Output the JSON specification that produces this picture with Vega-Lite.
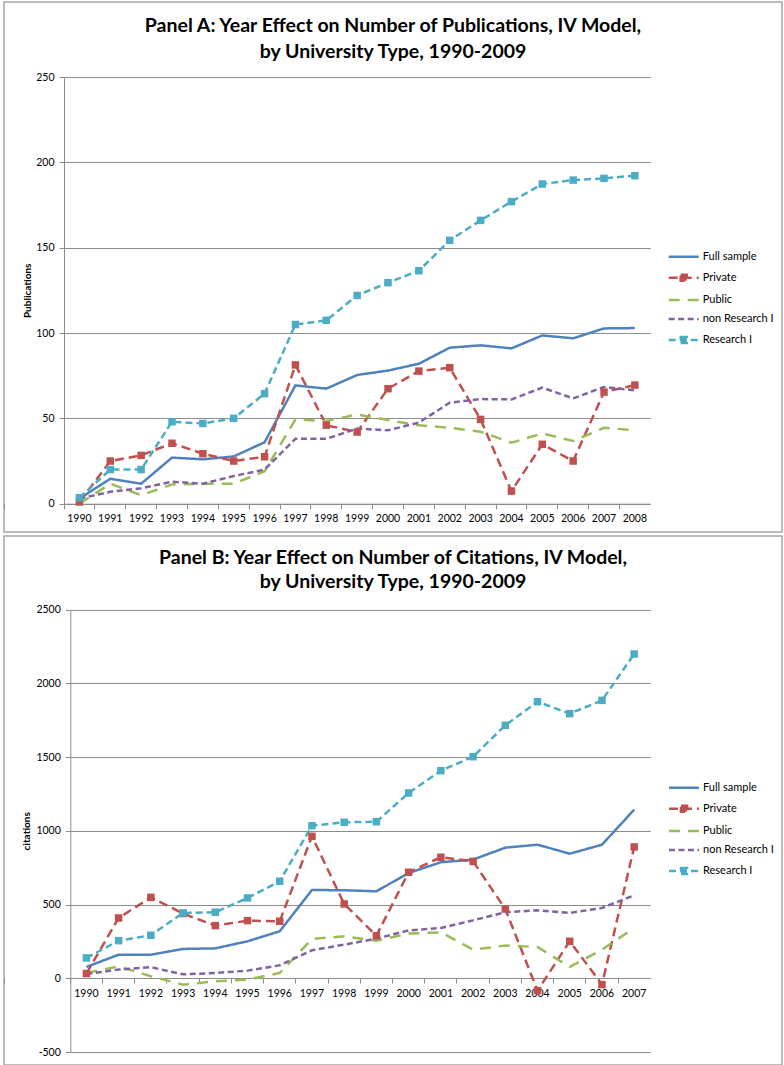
{
  "$schema": "https://vega.github.io/schema/vega-lite/v6.json",
  "background": "white",
  "padding": {"left": 2, "top": 1, "right": 0, "bottom": 0},
  "spacing": 2,
  "config": {
    "font": "Lato",
    "view": {"stroke": "#a6a6a6", "strokeWidth": 1.5},
    "axis": {"labelColor": "#000", "labelFontSize": 10.5, "domainColor": "#8c8c8c", "tickColor": "#8c8c8c", "gridColor": "#8c8c8c", "tickSize": 5, "labelPadding": 5, "domainWidth": 1, "gridWidth": 1, "tickWidth": 1}
  },
  "resolve": {"scale": {"color": "independent", "strokeDash": "independent"}, "legend": {"color": "independent", "strokeDash": "independent"}},
  "datasets": {
    "pubs": [
      {"year": 1990, "series": "Full sample", "value": 3}, {"year": 1990, "series": "Private", "value": 1}, {"year": 1990, "series": "Public", "value": 0}, {"year": 1990, "series": "non Research I", "value": 3}, {"year": 1990, "series": "Research I", "value": 3.5},
      {"year": 1991, "series": "Full sample", "value": 14.6}, {"year": 1991, "series": "Private", "value": 25}, {"year": 1991, "series": "Public", "value": 11.7}, {"year": 1991, "series": "non Research I", "value": 7}, {"year": 1991, "series": "Research I", "value": 20},
      {"year": 1992, "series": "Full sample", "value": 11.7}, {"year": 1992, "series": "Private", "value": 28.3}, {"year": 1992, "series": "Public", "value": 5}, {"year": 1992, "series": "non Research I", "value": 9}, {"year": 1992, "series": "Research I", "value": 20},
      {"year": 1993, "series": "Full sample", "value": 27}, {"year": 1993, "series": "Private", "value": 35.4}, {"year": 1993, "series": "Public", "value": 11.3}, {"year": 1993, "series": "non Research I", "value": 12.9}, {"year": 1993, "series": "Research I", "value": 48},
      {"year": 1994, "series": "Full sample", "value": 26}, {"year": 1994, "series": "Private", "value": 29.3}, {"year": 1994, "series": "Public", "value": 11.7}, {"year": 1994, "series": "non Research I", "value": 11.7}, {"year": 1994, "series": "Research I", "value": 47},
      {"year": 1995, "series": "Full sample", "value": 27.7}, {"year": 1995, "series": "Private", "value": 25}, {"year": 1995, "series": "Public", "value": 11.7}, {"year": 1995, "series": "non Research I", "value": 16.2}, {"year": 1995, "series": "Research I", "value": 50},
      {"year": 1996, "series": "Full sample", "value": 36}, {"year": 1996, "series": "Private", "value": 27.5}, {"year": 1996, "series": "Public", "value": 19}, {"year": 1996, "series": "non Research I", "value": 20}, {"year": 1996, "series": "Research I", "value": 64.5},
      {"year": 1997, "series": "Full sample", "value": 69.3}, {"year": 1997, "series": "Private", "value": 81.3}, {"year": 1997, "series": "Public", "value": 49.4}, {"year": 1997, "series": "non Research I", "value": 38}, {"year": 1997, "series": "Research I", "value": 105},
      {"year": 1998, "series": "Full sample", "value": 67.4}, {"year": 1998, "series": "Private", "value": 46}, {"year": 1998, "series": "Public", "value": 48.4}, {"year": 1998, "series": "non Research I", "value": 38}, {"year": 1998, "series": "Research I", "value": 107.4},
      {"year": 1999, "series": "Full sample", "value": 75.4}, {"year": 1999, "series": "Private", "value": 42}, {"year": 1999, "series": "Public", "value": 52.3}, {"year": 1999, "series": "non Research I", "value": 44}, {"year": 1999, "series": "Research I", "value": 122},
      {"year": 2000, "series": "Full sample", "value": 78}, {"year": 2000, "series": "Private", "value": 67.4}, {"year": 2000, "series": "Public", "value": 49}, {"year": 2000, "series": "non Research I", "value": 43}, {"year": 2000, "series": "Research I", "value": 129.5},
      {"year": 2001, "series": "Full sample", "value": 82}, {"year": 2001, "series": "Private", "value": 77.7}, {"year": 2001, "series": "Public", "value": 45.9}, {"year": 2001, "series": "non Research I", "value": 47.5}, {"year": 2001, "series": "Research I", "value": 136.5},
      {"year": 2002, "series": "Full sample", "value": 91.4}, {"year": 2002, "series": "Private", "value": 79.7}, {"year": 2002, "series": "Public", "value": 44.5}, {"year": 2002, "series": "non Research I", "value": 59.2}, {"year": 2002, "series": "Research I", "value": 154.3},
      {"year": 2003, "series": "Full sample", "value": 92.8}, {"year": 2003, "series": "Private", "value": 49.4}, {"year": 2003, "series": "Public", "value": 42.2}, {"year": 2003, "series": "non Research I", "value": 61.3}, {"year": 2003, "series": "Research I", "value": 166},
      {"year": 2004, "series": "Full sample", "value": 91}, {"year": 2004, "series": "Private", "value": 7.4}, {"year": 2004, "series": "Public", "value": 35.7}, {"year": 2004, "series": "non Research I", "value": 61.1}, {"year": 2004, "series": "Research I", "value": 177},
      {"year": 2005, "series": "Full sample", "value": 98.6}, {"year": 2005, "series": "Private", "value": 34.8}, {"year": 2005, "series": "Public", "value": 41.2}, {"year": 2005, "series": "non Research I", "value": 68}, {"year": 2005, "series": "Research I", "value": 187.3},
      {"year": 2006, "series": "Full sample", "value": 96.9}, {"year": 2006, "series": "Private", "value": 25}, {"year": 2006, "series": "Public", "value": 36.7}, {"year": 2006, "series": "non Research I", "value": 61.7}, {"year": 2006, "series": "Research I", "value": 189.6},
      {"year": 2007, "series": "Full sample", "value": 102.7}, {"year": 2007, "series": "Private", "value": 65.4}, {"year": 2007, "series": "Public", "value": 44.5}, {"year": 2007, "series": "non Research I", "value": 68.4}, {"year": 2007, "series": "Research I", "value": 190.6},
      {"year": 2008, "series": "Full sample", "value": 102.9}, {"year": 2008, "series": "Private", "value": 69.5}, {"year": 2008, "series": "Public", "value": 43}, {"year": 2008, "series": "non Research I", "value": 66.4}, {"year": 2008, "series": "Research I", "value": 192.2}
    ],
    "cites": [
      {"year": 1990, "series": "Full sample", "value": 77}, {"year": 1990, "series": "Private", "value": 32}, {"year": 1990, "series": "Public", "value": 36}, {"year": 1990, "series": "non Research I", "value": 29}, {"year": 1990, "series": "Research I", "value": 138},
      {"year": 1991, "series": "Full sample", "value": 160}, {"year": 1991, "series": "Private", "value": 409}, {"year": 1991, "series": "Public", "value": 81}, {"year": 1991, "series": "non Research I", "value": 59}, {"year": 1991, "series": "Research I", "value": 255},
      {"year": 1992, "series": "Full sample", "value": 160}, {"year": 1992, "series": "Private", "value": 549}, {"year": 1992, "series": "Public", "value": 14}, {"year": 1992, "series": "non Research I", "value": 75}, {"year": 1992, "series": "Research I", "value": 292},
      {"year": 1993, "series": "Full sample", "value": 199}, {"year": 1993, "series": "Private", "value": 439}, {"year": 1993, "series": "Public", "value": -43}, {"year": 1993, "series": "non Research I", "value": 27}, {"year": 1993, "series": "Research I", "value": 443},
      {"year": 1994, "series": "Full sample", "value": 203}, {"year": 1994, "series": "Private", "value": 357}, {"year": 1994, "series": "Public", "value": -20}, {"year": 1994, "series": "non Research I", "value": 36}, {"year": 1994, "series": "Research I", "value": 448},
      {"year": 1995, "series": "Full sample", "value": 251}, {"year": 1995, "series": "Private", "value": 391}, {"year": 1995, "series": "Public", "value": -9}, {"year": 1995, "series": "non Research I", "value": 52}, {"year": 1995, "series": "Research I", "value": 545},
      {"year": 1996, "series": "Full sample", "value": 319}, {"year": 1996, "series": "Private", "value": 387}, {"year": 1996, "series": "Public", "value": 36}, {"year": 1996, "series": "non Research I", "value": 88}, {"year": 1996, "series": "Research I", "value": 658},
      {"year": 1997, "series": "Full sample", "value": 599}, {"year": 1997, "series": "Private", "value": 963}, {"year": 1997, "series": "Public", "value": 267}, {"year": 1997, "series": "non Research I", "value": 190}, {"year": 1997, "series": "Research I", "value": 1035},
      {"year": 1998, "series": "Full sample", "value": 597}, {"year": 1998, "series": "Private", "value": 504}, {"year": 1998, "series": "Public", "value": 285}, {"year": 1998, "series": "non Research I", "value": 228}, {"year": 1998, "series": "Research I", "value": 1058},
      {"year": 1999, "series": "Full sample", "value": 590}, {"year": 1999, "series": "Private", "value": 289}, {"year": 1999, "series": "Public", "value": 255}, {"year": 1999, "series": "non Research I", "value": 269}, {"year": 1999, "series": "Research I", "value": 1062},
      {"year": 2000, "series": "Full sample", "value": 714}, {"year": 2000, "series": "Private", "value": 719}, {"year": 2000, "series": "Public", "value": 303}, {"year": 2000, "series": "non Research I", "value": 325}, {"year": 2000, "series": "Research I", "value": 1257},
      {"year": 2001, "series": "Full sample", "value": 787}, {"year": 2001, "series": "Private", "value": 821}, {"year": 2001, "series": "Public", "value": 312}, {"year": 2001, "series": "non Research I", "value": 341}, {"year": 2001, "series": "Research I", "value": 1408},
      {"year": 2002, "series": "Full sample", "value": 805}, {"year": 2002, "series": "Private", "value": 793}, {"year": 2002, "series": "Public", "value": 194}, {"year": 2002, "series": "non Research I", "value": 393}, {"year": 2002, "series": "Research I", "value": 1503},
      {"year": 2003, "series": "Full sample", "value": 886}, {"year": 2003, "series": "Private", "value": 470}, {"year": 2003, "series": "Public", "value": 222}, {"year": 2003, "series": "non Research I", "value": 448}, {"year": 2003, "series": "Research I", "value": 1716},
      {"year": 2004, "series": "Full sample", "value": 906}, {"year": 2004, "series": "Private", "value": -84}, {"year": 2004, "series": "Public", "value": 212}, {"year": 2004, "series": "non Research I", "value": 461}, {"year": 2004, "series": "Research I", "value": 1876},
      {"year": 2005, "series": "Full sample", "value": 845}, {"year": 2005, "series": "Private", "value": 251}, {"year": 2005, "series": "Public", "value": 77}, {"year": 2005, "series": "non Research I", "value": 443}, {"year": 2005, "series": "Research I", "value": 1795},
      {"year": 2006, "series": "Full sample", "value": 906}, {"year": 2006, "series": "Private", "value": -43}, {"year": 2006, "series": "Public", "value": 194}, {"year": 2006, "series": "non Research I", "value": 477}, {"year": 2006, "series": "Research I", "value": 1885},
      {"year": 2007, "series": "Full sample", "value": 1144}, {"year": 2007, "series": "Private", "value": 891}, {"year": 2007, "series": "Public", "value": 341}, {"year": 2007, "series": "non Research I", "value": 563}, {"year": 2007, "series": "Research I", "value": 2199}
    ]
  },
  "vconcat": [
    {
      "width": 778,
      "height": 530,
      "title": {"text": ["Panel A: Year Effect on Number of Publications, IV Model,", "by University Type, 1990-2009"], "fontSize": 19.5, "fontWeight": "bold", "color": "#000", "anchor": "middle", "frame": "group", "offset": -60, "lineHeight": 25.5},
      "data": {"name": "pubs"},
      "encoding": {
        "x": {"field": "year", "type": "ordinal", "scale": {"type": "band", "range": [60, 646.3], "paddingInner": 0, "paddingOuter": 0},
          "axis": {"title": null, "bandPosition": 0, "tickExtra": true, "offset": -28.3, "labelAngle": 0, "labelOverlap": false, "grid": false}},
        "y": {"field": "value", "type": "quantitative", "scale": {"domain": [0, 250], "range": [501.7, 75], "nice": false, "zero": false},
          "axis": {"title": "Publications", "offset": -60, "values": [0, 50, 100, 150, 200, 250], "labelExpr": "'' + datum.value", "grid": true, "titleFontWeight": "bold", "titleFontSize": 10, "titleColor": "#000", "titleX": -37, "titleY": 288.3, "titleBaseline": "middle", "titleAngle": -90}},
        "color": {"field": "series", "type": "nominal",
          "scale": {"domain": ["Full sample", "Private", "Public", "non Research I", "Research I"], "range": ["#4F81BD", "#C0504D", "#9BBB59", "#8064A2", "#4BACC6"]},
          "legend": {"title": null, "orient": "none", "legendX": 674.2, "legendY": 249.2, "padding": 0, "symbolType": "stroke", "symbolSize": 64, "symbolStrokeWidth": 2.5, "labelFontSize": 11, "labelColor": "#000", "labelOffset": 13.5, "rowPadding": 7.1,
            "encode": {"symbols": {"update": {
              "shape": {"signal": "(datum.value === 'Private' || datum.value === 'Research I') ? 'M-3.75,0H3.75M-0.75,-0.75H0.75V0.75H-0.75Z' : 'M-3.75,0H3.75'"},
              "fill": {"signal": "datum.value === 'Private' ? '#C0504D' : datum.value === 'Research I' ? '#4BACC6' : 'transparent'"},
              "stroke": {"signal": "datum.value === 'Full sample' ? '#4F81BD' : datum.value === 'Private' ? '#C0504D' : datum.value === 'Public' ? '#9BBB59' : datum.value === 'non Research I' ? '#8064A2' : '#4BACC6'"},
              "strokeDash": {"signal": "datum.value === 'Full sample' ? [1, 0] : datum.value === 'Private' ? [11, 8, 11, 0] : datum.value === 'Public' ? [11, 8] : datum.value === 'non Research I' ? [6, 3.5] : [8, 14, 8, 0]"},
              "strokeWidth": {"value": 2.5},
              "opacity": {"value": 1}
            }}}}
        }
      },
      "layer": [
        {"mark": {"type": "line", "strokeWidth": 2.5},
         "encoding": {"strokeDash": {"field": "series", "type": "nominal", "legend": null,
           "scale": {"domain": ["Full sample", "Private", "Public", "non Research I", "Research I"], "range": [[1, 0], [9, 5], [11, 8], [6, 3.5], [7, 4]]}}}},
        {"transform": [{"filter": "datum.series === 'Private' || datum.series === 'Research I'"}],
         "mark": {"type": "square", "size": 56, "filled": true, "opacity": 1}}
      ]
    },
    {
      "width": 778,
      "height": 529,
      "title": {"text": ["Panel B: Year Effect on Number of Citations, IV Model,", "by University Type, 1990-2009"], "fontSize": 19.5, "fontWeight": "bold", "color": "#000", "anchor": "middle", "frame": "group", "offset": -56, "lineHeight": 24},
      "data": {"name": "cites"},
      "encoding": {
        "x": {"field": "year", "type": "ordinal", "scale": {"type": "band", "range": [66.3, 646.3], "paddingInner": 0, "paddingOuter": 0},
          "axis": {"title": null, "bandPosition": 0, "tickExtra": true, "offset": -87, "labelAngle": 0, "labelOverlap": false, "grid": false}},
        "y": {"field": "value", "type": "quantitative", "scale": {"domain": [-500, 2500], "range": [516, 73.7], "nice": false, "zero": false},
          "axis": {"title": "citations", "offset": -66.3, "values": [-500, 0, 500, 1000, 1500, 2000, 2500], "labelExpr": "'' + datum.value", "grid": true, "titleFontWeight": "bold", "titleFontSize": 10, "titleColor": "#000", "titleX": -44.3, "titleY": 294.8, "titleBaseline": "middle", "titleAngle": -90}},
        "color": {"field": "series", "type": "nominal",
          "scale": {"domain": ["Full sample", "Private", "Public", "non Research I", "Research I"], "range": ["#4F81BD", "#C0504D", "#9BBB59", "#8064A2", "#4BACC6"]},
          "legend": {"title": null, "orient": "none", "legendX": 674.5, "legendY": 246.2, "padding": 0, "symbolType": "stroke", "symbolSize": 64, "symbolStrokeWidth": 2.5, "labelFontSize": 11, "labelColor": "#000", "labelOffset": 13.5, "rowPadding": 7.1,
            "encode": {"symbols": {"update": {
              "shape": {"signal": "(datum.value === 'Private' || datum.value === 'Research I') ? 'M-3.75,0H3.75M-0.75,-0.75H0.75V0.75H-0.75Z' : 'M-3.75,0H3.75'"},
              "fill": {"signal": "datum.value === 'Private' ? '#C0504D' : datum.value === 'Research I' ? '#4BACC6' : 'transparent'"},
              "stroke": {"signal": "datum.value === 'Full sample' ? '#4F81BD' : datum.value === 'Private' ? '#C0504D' : datum.value === 'Public' ? '#9BBB59' : datum.value === 'non Research I' ? '#8064A2' : '#4BACC6'"},
              "strokeDash": {"signal": "datum.value === 'Full sample' ? [1, 0] : datum.value === 'Private' ? [11, 8, 11, 0] : datum.value === 'Public' ? [11, 8] : datum.value === 'non Research I' ? [6, 3.5] : [8, 14, 8, 0]"},
              "strokeWidth": {"value": 2.5},
              "opacity": {"value": 1}
            }}}}
        }
      },
      "layer": [
        {"mark": {"type": "line", "strokeWidth": 2.5},
         "encoding": {"strokeDash": {"field": "series", "type": "nominal", "legend": null,
           "scale": {"domain": ["Full sample", "Private", "Public", "non Research I", "Research I"], "range": [[1, 0], [9, 5], [11, 8], [6, 3.5], [7, 4]]}}}},
        {"transform": [{"filter": "datum.series === 'Private' || datum.series === 'Research I'"}],
         "mark": {"type": "square", "size": 56, "filled": true, "opacity": 1}}
      ]
    }
  ]
}
